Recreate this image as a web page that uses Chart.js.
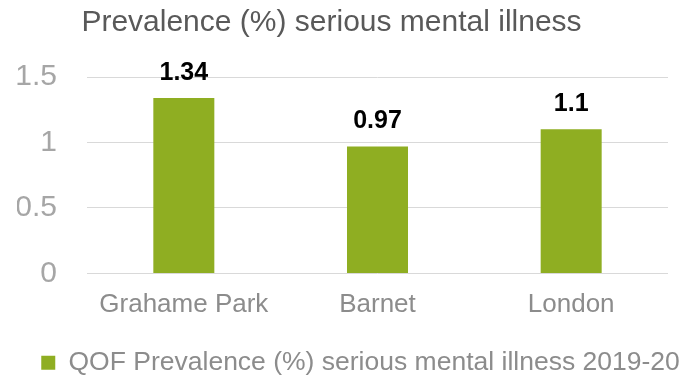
<!DOCTYPE html>
<html>
<head>
<meta charset="utf-8">
<script src="https://cdn.jsdelivr.net/npm/chart.js@4"></script>
<style>
  html, body { margin: 0; padding: 0; background: #fff; }
  #wrap { width: 684px; height: 377px; }
</style>
</head>
<body>
<div id="wrap"><canvas id="myChart"></canvas></div>
<script>
// data
const categories = ['Grahame Park', 'Barnet', 'London'];
const prevalence = [1.34, 0.97, 1.1];
const seriesName = 'QOF Prevalence (%) serious mental illness 2019-20';
const yTicks = [0, 0.5, 1, 1.5];

const FONT = '"Liberation Sans", Arial, sans-serif';

// value labels above the bars
const barLabels = {
  id: 'barLabels',
  afterDatasetsDraw(chart) {
    const ctx = chart.ctx;
    const meta = chart.getDatasetMeta(0);
    ctx.save();
    ctx.font = 'bold 25px ' + FONT;
    ctx.fillStyle = '#000';
    ctx.textAlign = 'center';
    ctx.textBaseline = 'alphabetic';
    meta.data.forEach((bar, i) => {
      ctx.fillText(String(chart.data.datasets[0].data[i]), bar.x, bar.y - 18);
    });
    ctx.restore();
  }
};

// nudge title and legend a little, like the original
const nudge = {
  id: 'nudge',
  afterLayout(chart) {
    if (chart.titleBlock) { chart.titleBlock.left -= 11; chart.titleBlock.right -= 11; }
    if (chart.legend) {
      chart.legend.left += 18; chart.legend.right += 18;
      chart.legend.top += 2; chart.legend.bottom += 2;
    }
  }
};

const data = {
  labels: categories,
  datasets: [{
    label: seriesName,
    data: prevalence,
    backgroundColor: '#8fae22',
    borderWidth: 0,
    barPercentage: 0.315,
    categoryPercentage: 1
  }]
};

const config = {
  type: 'bar',
  data,
  plugins: [barLabels, nudge],
  options: {
    responsive: true,
    maintainAspectRatio: false,
    animation: false,
    layout: { padding: { left: 17, right: 16, top: 0, bottom: -7 } },
    plugins: {
      title: {
        display: true,
        text: 'Prevalence (%) serious mental illness',
        color: '#595959',
        font: { family: FONT, size: 30, weight: 'normal' },
        padding: { top: 5, bottom: 36 }
      },
      legend: {
        position: 'bottom',
        labels: {
          color: '#8c8c8c',
          font: { family: FONT, size: 26.5 },
          boxWidth: 14,
          boxHeight: 14,
          padding: 4
        }
      },
      tooltip: { enabled: false }
    },
    scales: {
      x: {
        grid: { display: false, drawTicks: false },
        border: { display: false },
        afterFit(axis) { axis.height += 7; },
        ticks: {
          color: '#8c8c8c',
          font: { family: FONT, size: 26, lineHeight: 2.12 },
          padding: 4
        }
      },
      y: {
        min: 0,
        max: 1.5,
        afterBuildTicks(axis) { axis.ticks = yTicks.map(v => ({ value: v })); },
        afterFit(axis) { axis.width = 70; },
        grid: { color: '#d9d9d9', lineWidth: 1, drawTicks: false },
        border: { display: false },
        ticks: {
          color: '#a6a6a6',
          font: { family: FONT, size: 30 },
          padding: 30,
          callback: (v) => String(v)
        }
      }
    }
  }
};

const myChart = new Chart(document.getElementById('myChart'), config);
</script>
</body>
</html>
